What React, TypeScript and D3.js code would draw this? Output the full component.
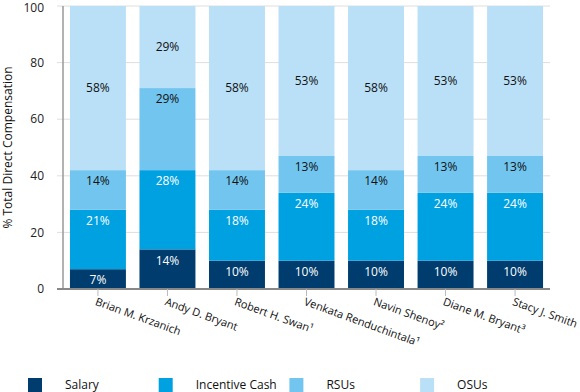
import React, { useRef, useEffect } from 'react';
import * as d3 from 'd3';

// executives and their pay mix (% of total direct compensation)
const names = [
    'Brian M. Krzanich',
    'Andy D. Bryant',
    'Robert H. Swan\u00B9',
    'Venkata Renduchintala\u00B9',
    'Navin Shenoy\u00B2',
    'Diane M. Bryant\u00B3',
    'Stacy J. Smith',
];
const salary = [7, 14, 10, 10, 10, 10, 10];
const incentiveCash = [21, 28, 18, 24, 18, 24, 24];
const rsus = [14, 29, 14, 13, 14, 13, 13];
const osus = [58, 29, 58, 53, 58, 53, 53];

const seriesNames = ['Salary', 'Incentive Cash', 'RSUs', 'OSUs'];
const seriesColors = ['#003d6e', '#00a1e1', '#71c5ef', '#bae0f7'];
const labelColors = ['#ffffff', '#ffffff', '#111111', '#111111'];
const yTicks = [0, 20, 40, 60, 80, 100];

const W = 580, H = 392;
const margin = { top: 6, right: 30, bottom: 103, left: 63 };
const font = '"Open Sans", "Noto Sans", sans-serif';

const App = () => {
    const ref = useRef(null);

    useEffect(() => {
        const svg = d3.select(ref.current);
        svg.selectAll('*').remove();

        const width = W - margin.left - margin.right;
        const height = H - margin.top - margin.bottom;

        const rows = names.map((n, i) => ({
            name: n,
            Salary: salary[i],
            'Incentive Cash': incentiveCash[i],
            RSUs: rsus[i],
            OSUs: osus[i],
        }));
        const stacked = d3.stack().keys(seriesNames)(rows);

        const x = d3.scaleBand()
            .domain(names)
            .range([0, width])
            .paddingInner(0.195)
            .paddingOuter(0.1);
        const y = d3.scaleLinear().domain([0, 100]).range([height, 0]);

        const g = svg.append('g').attr('transform', `translate(${margin.left},${margin.top})`);

        // gridlines
        g.append('g')
            .selectAll('line')
            .data(yTicks)
            .enter()
            .append('line')
            .attr('x1', -6)
            .attr('x2', width)
            .attr('y1', (d) => y(d))
            .attr('y2', (d) => y(d))
            .style('stroke', '#dedede')
            .style('stroke-width', 1);

        // y tick labels
        g.append('g')
            .selectAll('text')
            .data(yTicks)
            .enter()
            .append('text')
            .attr('x', -19)
            .attr('y', (d) => y(d) + (d === 100 ? 1.5 : 0))
            .attr('dy', '0.35em')
            .attr('text-anchor', 'end')
            .style('font-family', font)
            .style('font-size', '12px')
            .style('fill', '#222')
            .text((d) => d);

        // bars
        const layers = g.selectAll('g.layer')
            .data(stacked)
            .enter()
            .append('g')
            .attr('class', 'layer')
            .style('fill', (d, i) => seriesColors[i]);
        layers.selectAll('rect')
            .data((d) => d)
            .enter()
            .append('rect')
            .attr('x', (d) => x(d.data.name))
            .attr('y', (d) => y(d[1]))
            .attr('width', x.bandwidth())
            .attr('height', (d) => y(d[0]) - y(d[1]));

        // value labels: top segment centred, the rest near the segment top
        stacked.forEach((layer, si) => {
            g.append('g')
                .selectAll('text')
                .data(layer)
                .enter()
                .append('text')
                .attr('x', (d) => x(d.data.name) + x.bandwidth() / 2)
                .attr('y', (d) => si === stacked.length - 1
                    ? (y(d[0]) + y(d[1])) / 2
                    : y(d[1]) + 11)
                .attr('dy', '0.35em')
                .attr('text-anchor', 'middle')
                .style('font-family', font)
                .style('font-size', '12px')
                .style('fill', labelColors[si])
                .text((d) => (d[1] - d[0]) + '%');
        });

        // axis lines
        g.append('line')
            .attr('x1', 0).attr('x2', 0)
            .attr('y1', 0).attr('y2', height)
            .style('stroke', '#999')
            .style('stroke-width', 1.5);
        g.append('line')
            .attr('x1', -6).attr('x2', width)
            .attr('y1', height).attr('y2', height)
            .style('stroke', '#888')
            .style('stroke-width', 2);

        // x ticks + rotated names
        const xt = g.append('g')
            .selectAll('g')
            .data(names)
            .enter()
            .append('g')
            .attr('transform', (d) => `translate(${x(d) + x.bandwidth() / 2},${height})`);
        xt.append('line')
            .attr('y1', 0).attr('y2', 7)
            .style('stroke', '#bbb');
        xt.append('text')
            .attr('transform', 'translate(-2,12) rotate(20)')
            .attr('dy', '0.35em')
            .attr('text-anchor', 'start')
            .style('font-family', font)
            .style('font-size', '11px')
            .style('fill', '#111')
            .text((d) => d);

        // y axis title
        g.append('text')
            .attr('transform', `translate(${-55},${height / 2}) rotate(-90)`)
            .attr('text-anchor', 'middle')
            .attr('dy', '0.35em')
            .style('font-family', font)
            .style('font-size', '12px')
            .style('fill', '#111')
            .text('% Total Direct Compensation');

        // legend
        const legend = svg.append('g')
            .selectAll('g')
            .data(seriesNames)
            .enter()
            .append('g')
            .attr('transform', (d, i) => `translate(${28 + i * 130.7},378)`);
        legend.append('rect')
            .attr('width', 14)
            .attr('height', 14)
            .style('fill', (d, i) => seriesColors[i]);
        legend.append('text')
            .attr('x', 37)
            .attr('y', 7)
            .attr('dy', '0.35em')
            .style('font-family', font)
            .style('font-size', '12px')
            .style('fill', '#111')
            .text((d) => d);
    }, []);

    return (
        <svg
            ref={ref}
            width={W}
            height={H}
            style={{ position: 'absolute', left: 0, top: 0, background: '#fff' }}
        />
    );
};

export default App;
